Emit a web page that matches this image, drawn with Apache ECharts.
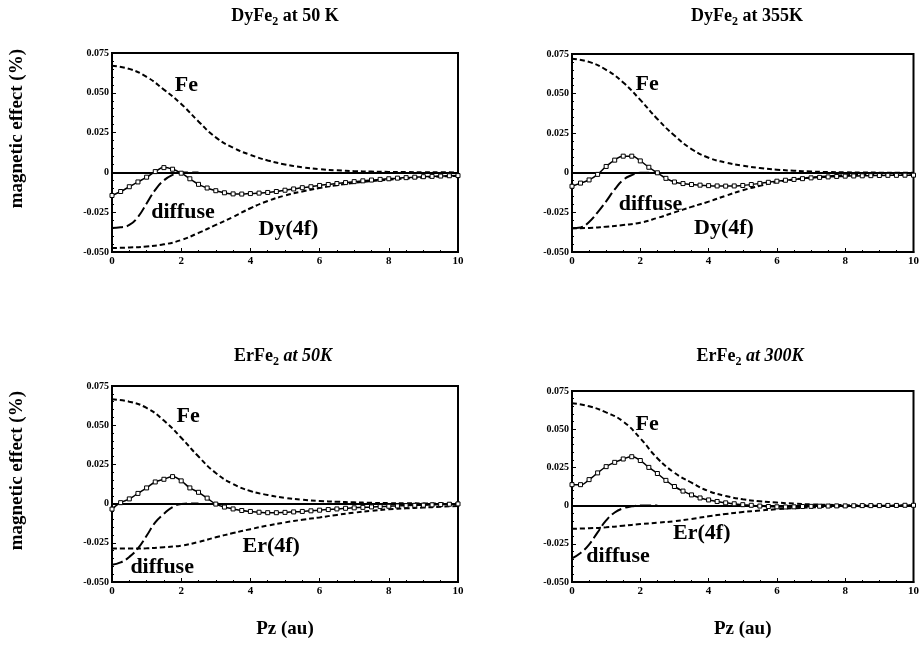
<!DOCTYPE html>
<html>
<head>
<meta charset="utf-8">
<script src="https://cdn.jsdelivr.net/npm/echarts@6/dist/echarts.min.js"></script>
<style>
  html, body { margin: 0; padding: 0; background: #fff; }
  #chart { width: 922px; height: 647px; }
</style>
</head>
<body>
<div id="chart"></div>
<script>
// x grids (Pz in au)
const pz = [0, 0.25, 0.5, 0.75, 1, 1.25, 1.5, 1.75, 2, 2.25, 2.5, 2.75, 3, 3.25, 3.5, 3.75, 4, 4.25, 4.5, 4.75,
  5, 5.25, 5.5, 5.75, 6, 6.25, 6.5, 6.75, 7, 7.25, 7.5, 7.75, 8, 8.25, 8.5, 8.75, 9, 9.25, 9.5, 9.75, 10]
const pzModel = [0, 0.5, 1, 1.5, 2, 2.5, 3, 3.5, 4, 4.5, 5, 5.5, 6, 6.5, 7, 7.5, 8, 8.5, 9, 9.5, 10]
const pzDiff = [0, 0.25, 0.5, 0.75, 1, 1.25, 1.5, 1.75, 2, 2.25, 2.5]

const yTicks = [-0.05, -0.025, 0, 0.025, 0.05, 0.075]
const xTicks = [0, 2, 4, 6, 8, 10]

// DyFe2 at 50 K
const fe1 = [0.067, 0.065, 0.060, 0.052, 0.043, 0.032, 0.022, 0.0155, 0.011, 0.0075, 0.005, 0.0032, 0.002, 0.0013, 0.0008, 0.0005, 0.0003, 0.0002, 0.0001, 0.00005, 0]
const rare1 = [-0.0475, -0.0472, -0.0465, -0.0452, -0.0425, -0.038, -0.033, -0.028, -0.0225, -0.018, -0.0145, -0.012, -0.0098, -0.008, -0.0066, -0.0055, -0.0046, -0.0038, -0.0032, -0.0026, -0.0022]
const diff1 = [-0.035, -0.0345, -0.033, -0.028, -0.0195, -0.011, -0.005, -0.0015, 0, 0, 0]
const tot1 = [-0.0145, -0.012, -0.009, -0.006, -0.003, 0.0005, 0.003, 0.002, -0.0005, -0.004, -0.0075, -0.0098, -0.0115, -0.0128, -0.0135, -0.0136, -0.0133, -0.013, -0.0126, -0.012,
  -0.0112, -0.0104, -0.0096, -0.009, -0.0082, -0.0076, -0.007, -0.0064, -0.0058, -0.0053, -0.0048, -0.0044, -0.004, -0.0036, -0.0033, -0.003, -0.0027, -0.0025, -0.0023, -0.0021, -0.002]

// DyFe2 at 355K
const fe2 = [0.072, 0.070, 0.065, 0.057, 0.046, 0.034, 0.0235, 0.015, 0.0095, 0.0065, 0.0045, 0.003, 0.002, 0.0013, 0.0008, 0.0005, 0.0003, 0.0002, 0.0001, 0.00005, 0]
const rare2 = [-0.035, -0.0348, -0.034, -0.033, -0.0315, -0.0285, -0.025, -0.0215, -0.0182, -0.0145, -0.011, -0.0082, -0.0058, -0.0042, -0.003, -0.0022, -0.0015, -0.0012, -0.001, -0.0008, -0.0006]
const diff2 = [-0.035, -0.0345, -0.031, -0.025, -0.018, -0.0105, -0.0045, -0.0015, 0, 0, 0]
const tot2 = [-0.0085, -0.0065, -0.0045, -0.001, 0.004, 0.008, 0.0105, 0.0105, 0.0075, 0.0035, 0, -0.0035, -0.0058, -0.0068, -0.0074, -0.0078, -0.0081, -0.0083, -0.0084, -0.0083,
  -0.008, -0.0074, -0.0067, -0.006, -0.0053, -0.0047, -0.0042, -0.0037, -0.0032, -0.0029, -0.0026, -0.0023, -0.0021, -0.002, -0.0019, -0.0018, -0.0017, -0.0016, -0.0016, -0.0015, -0.0015]

// ErFe2 at 50K
const fe3 = [0.0665, 0.065, 0.061, 0.053, 0.042, 0.030, 0.0195, 0.0125, 0.008, 0.0055, 0.0036, 0.0025, 0.0017, 0.0012, 0.0008, 0.0005, 0.0003, 0.0002, 0.0001, 0.00005, 0]
const rare3 = [-0.0287, -0.0287, -0.0285, -0.0278, -0.0268, -0.0245, -0.0215, -0.0188, -0.0163, -0.014, -0.012, -0.0103, -0.0088, -0.0072, -0.0058, -0.0046, -0.0036, -0.003, -0.0025, -0.002, -0.0015]
const diff3 = [-0.039, -0.0375, -0.034, -0.0285, -0.0205, -0.012, -0.0065, -0.0022, -0.0003, 0, 0]
const tot3 = [-0.0035, 0.0006, 0.003, 0.0065, 0.010, 0.0138, 0.0155, 0.0172, 0.0145, 0.010, 0.0072, 0.0035, -0.0003, -0.0022, -0.0034, -0.0044, -0.005, -0.0055, -0.0058, -0.0058,
  -0.0056, -0.0053, -0.005, -0.0046, -0.0042, -0.0038, -0.0034, -0.003, -0.0027, -0.0024, -0.0021, -0.0019, -0.0017, -0.0015, -0.0013, -0.0011, -0.001, -0.0008, -0.0006, -0.0004, -0.0002]

// ErFe2 at 300K
const fe4 = [0.067, 0.065, 0.061, 0.055, 0.044, 0.031, 0.0215, 0.015, 0.0095, 0.0063, 0.0041, 0.0029, 0.002, 0.0013, 0.0008, 0.0005, 0.0003, 0.0002, 0.0001, 0.00005, 0]
const rare4 = [-0.0152, -0.0148, -0.0142, -0.0132, -0.0121, -0.0112, -0.0102, -0.0087, -0.007, -0.0055, -0.0042, -0.0032, -0.0024, -0.0017, -0.0012, -0.0008, -0.0006, -0.0004, -0.0003, -0.0002, -0.0001]
const diff4 = [-0.0345, -0.031, -0.0255, -0.0175, -0.0097, -0.0045, -0.0018, -0.0005, 0, 0, 0]
const tot4 = [0.0137, 0.0137, 0.017, 0.0214, 0.0255, 0.0283, 0.0305, 0.032, 0.0295, 0.025, 0.021, 0.0165, 0.0125, 0.0095, 0.007, 0.005, 0.0037, 0.0027, 0.0018, 0.0012,
  0.0006, 0.0002, -0.0003, -0.0006, -0.0008, -0.0009, -0.0008, -0.0006, -0.0005, -0.0004, -0.0003, -0.0002, -0.0002, -0.0001, 0, 0, 0, 0.0001, 0.0001, 0.0002, 0.0002]

// panel layout & labels
const panels = [
  { left: 112, top: 53, width: 346, height: 199, title: ['DyFe', ' at 50 K'], italic: false, tx: 280, ty: 0,
    fe: fe1, rare: rare1, diff: diff1, tot: tot1, rareName: 'Dy(4f)',
    feAt: [2.15, 0.055], rareAt: [5.1, -0.036], diffAt: [2.05, -0.025], xName: false },
  { left: 572, top: 54, width: 345, height: 198, title: ['DyFe', ' at 355K'], italic: false, tx: 742, ty: 0,
    fe: fe2, rare: rare2, diff: diff2, tot: tot2, rareName: 'Dy(4f)',
    feAt: [2.2, 0.056], rareAt: [4.45, -0.035], diffAt: [2.3, -0.020], xName: false },
  { left: 112, top: 386, width: 346, height: 196, title: ['ErFe', ' at 50K'], italic: true, tx: 278, ty: 340,
    fe: fe3, rare: rare3, diff: diff3, tot: tot3, rareName: 'Er(4f)',
    feAt: [2.2, 0.0555], rareAt: [4.6, -0.027], diffAt: [1.45, -0.0405], xName: true },
  { left: 572, top: 391, width: 345, height: 191, title: ['ErFe', ' at 300K'], italic: true, tx: 745, ty: 340,
    fe: fe4, rare: rare4, diff: diff4, tot: tot4, rareName: 'Er(4f)',
    feAt: [2.2, 0.053], rareAt: [3.8, -0.018], diffAt: [1.35, -0.033], xName: true }
]

const serif = 'Liberation Serif'
const pairs = (xs, ys) => xs.map((x, i) => [x, ys[i]])
// text annotation placed at a data coordinate
const tag = (at, text) => ({
  coord: at, value: 0, symbol: 'circle', symbolSize: 1,
  itemStyle: { color: 'rgba(0,0,0,0)' },
  label: { show: true, formatter: text, position: 'inside', color: '#000', fontFamily: serif, fontWeight: 'bold', fontSize: 22 }
})

const chart = echarts.init(document.getElementById('chart'))

const grid = []
const xAxis = []
const yAxis = []
const title = []
const series = []

panels.forEach((p, i) => {
  grid.push({ left: p.left, top: p.top, width: p.width, height: p.height, show: true, borderColor: '#000', borderWidth: 2, backgroundColor: 'transparent' })
  title.push({
    text: '{a|' + p.title[0] + '}{s|2}{b|' + p.title[1] + '}',
    left: p.tx, top: p.ty, textAlign: 'center',
    textStyle: {
      rich: {
        a: { fontFamily: serif, fontWeight: 'bold', fontSize: 18, color: '#000' },
        s: { fontFamily: serif, fontWeight: 'bold', fontSize: 12, color: '#000', verticalAlign: 'bottom', padding: [11, 0, 0, 0] },
        b: { fontFamily: serif, fontWeight: 'bold', fontStyle: p.italic ? 'italic' : 'normal', fontSize: 18, color: '#000' }
      }
    }
  })
  xAxis.push({
    gridIndex: i, type: 'value', min: 0, max: 10, interval: 2,
    name: p.xName ? 'Pz (au)' : '', nameLocation: 'middle', nameGap: 38,
    nameTextStyle: { fontFamily: serif, fontWeight: 'bold', fontSize: 19, color: '#000' },
    axisLine: { show: true, onZero: false, lineStyle: { color: '#000', width: 2 } },
    axisTick: { show: true, inside: true, length: 4, lineStyle: { color: '#000' } },
    minorTick: { show: true, splitNumber: 4, length: 2, lineStyle: { color: '#000' } },
    axisLabel: { fontFamily: serif, fontWeight: 'bold', fontSize: 11, color: '#000', margin: 4,
      formatter: v => xTicks.includes(v) ? String(v) : '' },
    splitLine: { show: false }
  })
  yAxis.push({
    gridIndex: i, type: 'value', min: -0.05, max: 0.075, interval: 0.025,
    axisLine: { show: true, onZero: false, lineStyle: { color: '#000', width: 2 } },
    axisTick: { show: true, inside: true, length: 4, lineStyle: { color: '#000' } },
    minorTick: { show: true, splitNumber: 5, length: 2, lineStyle: { color: '#000' } },
    axisLabel: { fontFamily: serif, fontWeight: 'bold', fontSize: 10, color: '#000', margin: 3,
      formatter: v => {
        const t = yTicks.find(k => Math.abs(k - v) < 1e-9)
        if (t === undefined) return ''
        return t === 0 ? '0' : t.toFixed(3)
      } },
    splitLine: { show: false }
  })

  // Fe contribution
  series.push({
    type: 'line', xAxisIndex: i, yAxisIndex: i, data: pairs(pzModel, p.fe), smooth: true, symbol: 'none',
    lineStyle: { color: '#000', width: 2, type: [5, 3] },
    markPoint: { silent: true, data: [tag(p.feAt, 'Fe')] }
  })
  // rare earth 4f contribution
  series.push({
    type: 'line', xAxisIndex: i, yAxisIndex: i, data: pairs(pzModel, p.rare), smooth: true, symbol: 'none',
    lineStyle: { color: '#000', width: 2, type: [5, 3] },
    markPoint: { silent: true, data: [tag(p.rareAt, p.rareName)] }
  })
  // diffuse contribution
  series.push({
    type: 'line', xAxisIndex: i, yAxisIndex: i, data: pairs(pzDiff, p.diff), smooth: true, symbol: 'none',
    lineStyle: { color: '#000', width: 2, type: [11, 4] },
    markPoint: { silent: true, data: [tag(p.diffAt, 'diffuse')] }
  })
  // zero line
  series.push({
    type: 'line', xAxisIndex: i, yAxisIndex: i, data: [], symbol: 'none',
    markLine: { silent: true, symbol: 'none', label: { show: false },
      lineStyle: { color: '#000', width: 2, type: 'solid' }, data: [{ yAxis: 0 }] }
  })
  // measured data + fit
  series.push({
    type: 'line', xAxisIndex: i, yAxisIndex: i, data: pairs(pz, p.tot), smooth: true,
    symbol: 'rect', symbolSize: 4, showAllSymbol: true,
    itemStyle: { color: '#fff', borderColor: '#000', borderWidth: 1 },
    lineStyle: { color: '#000', width: 1.5 },
    z: 5
  })
})

// y axis titles of the two rows
const yName = (cy) => ({
  type: 'text', left: 8, top: cy - 81, rotation: Math.PI / 2,
  style: { text: 'magnetic effect (%)', fontFamily: serif, fontWeight: 'bold', fontSize: 19, fill: '#000' }
})

chart.setOption({
  animation: false,
  backgroundColor: '#fff',
  title: title,
  grid: grid,
  xAxis: xAxis,
  yAxis: yAxis,
  series: series,
  graphic: [yName(130), yName(472)]
})
</script>
</body>
</html>
